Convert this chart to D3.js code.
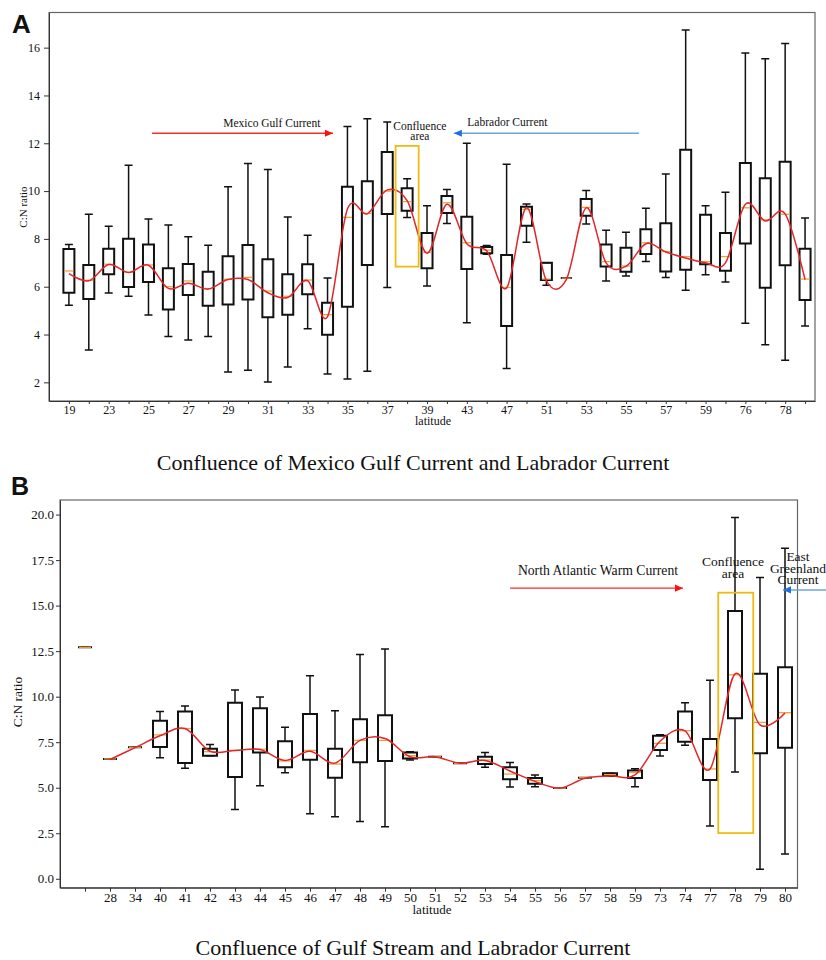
<!DOCTYPE html>
<html><head><meta charset="utf-8">
<script src="https://cdn.jsdelivr.net/npm/d3@7"></script>
<style>
body{margin:0;background:#fff}
svg{display:block}
text{font-family:"Liberation Serif","Times New Roman",serif;fill:#111}
</style>
</head><body>
<svg id="chart" width="826" height="960"></svg>
<script>
// ---------------- Panel A data ----------------
const catsA = ["19","21","23","24","25","26","27","28","29","30","31","32","33","34","35","36","37","38","39","41","43","45","47","49","51","52","53","54","55","56","57","58","59","60","76","77","78","79"];
const tickLabelsA = ["19","23","25","27","29","31","33","35","37","39","43","47","51","53","55","57","59","76","78"];
const lowA  = [5.23,3.35,5.74,5.60,4.82,3.92,3.77,3.92,2.43,2.51,2.01,2.64,4.24,2.35,2.14,2.46,5.97,8.90,6.03,8.64,4.49,7.36,2.58,7.86,6.06,6.36,8.62,6.24,6.45,7.06,6.39,5.85,6.50,6.20,4.47,3.57,2.92,4.36];
const q1A   = [5.75,5.49,6.52,5.99,6.20,5.05,5.65,5.20,5.26,5.47,4.72,4.83,5.68,3.99,5.16,6.91,9.04,9.18,6.77,9.08,6.74,7.40,4.36,8.55,6.28,6.36,8.97,6.85,6.63,7.37,6.64,6.71,6.94,6.67,7.81,5.96,6.90,5.44];
const medA  = [6.66,6.27,6.94,6.60,6.91,6.00,6.24,5.92,6.31,6.39,5.82,5.60,6.28,4.83,8.90,9.07,10.00,9.56,7.44,9.51,7.84,7.53,5.97,9.24,6.32,6.36,9.32,7.05,6.87,7.84,7.47,7.26,7.05,7.26,9.30,8.80,9.03,6.32];
const q3A   = [7.58,6.91,7.59,8.01,7.77,6.77,6.95,6.63,7.27,7.74,7.15,6.52,6.94,5.33,10.18,10.41,11.64,10.12,8.25,9.79,8.93,7.66,7.33,9.35,7.00,6.36,9.67,7.77,7.63,8.40,8.65,11.73,9.01,8.25,11.18,10.54,11.23,7.59];
const highA = [7.77,9.03,8.53,11.08,8.83,8.58,8.09,7.73,10.18,11.15,10.90,8.92,8.15,6.36,12.70,13.03,12.89,10.52,9.39,10.07,12.00,7.72,11.12,9.46,7.00,6.36,10.02,8.36,8.28,9.28,10.72,16.74,9.39,9.95,15.78,15.54,16.17,8.87];
const meanA = [6.55,6.25,6.93,6.60,6.90,5.93,6.15,5.90,6.30,6.30,5.75,5.55,6.25,4.75,9.25,9.05,10.05,9.60,7.40,9.45,7.80,7.50,5.95,9.30,6.25,6.30,9.30,7.00,6.85,7.80,7.45,7.20,7.00,7.00,9.45,8.75,9.05,6.30];
const yTicksA = [2,4,6,8,10,12,14,16];

// ---------------- Panel B data ----------------
const catsB = ["","28","34","40","41","42","43","44","45","46","47","48","49","50","51","52","53","54","55","56","57","58","59","73","74","77","78","79","80"];
const lowB  = [12.71,6.58,7.22,6.65,6.07,6.76,3.81,5.11,5.82,3.57,3.41,3.15,2.86,6.52,6.70,6.34,6.12,5.04,5.06,4.98,5.55,5.64,5.06,6.74,7.33,2.90,5.86,0.53,1.36];
const q1B   = [12.71,6.58,7.22,7.24,6.36,6.76,5.59,6.94,6.12,6.54,5.55,6.40,6.47,6.60,6.70,6.34,6.30,5.46,5.22,4.98,5.55,5.64,5.53,7.07,7.53,5.42,8.81,6.89,7.20];
const medB  = [12.71,6.58,7.22,7.90,8.25,6.98,7.05,7.12,6.47,7.05,6.30,7.60,7.60,6.76,6.70,6.34,6.52,5.75,5.39,4.98,5.55,5.72,5.84,7.44,8.13,6.03,11.20,8.59,9.12];
const q3B   = [12.71,6.58,7.22,8.68,9.18,7.14,9.67,9.36,7.55,9.05,7.14,8.76,8.98,6.93,6.70,6.34,6.70,6.12,5.53,4.98,5.55,5.80,5.95,7.86,9.18,7.68,14.71,11.26,11.61];
const highB = [12.71,6.58,7.22,9.18,9.49,7.38,10.37,9.98,8.32,11.15,9.23,12.31,12.62,6.98,6.70,6.34,6.93,6.38,5.70,4.98,5.55,5.80,6.04,7.91,9.67,10.90,19.84,16.54,18.15];
const meanB = [null,6.55,7.20,7.85,8.25,7.00,7.05,7.10,6.50,7.00,6.35,7.60,7.70,6.70,6.70,6.35,6.50,5.92,5.35,4.98,5.52,5.65,5.70,7.55,8.12,6.03,11.25,8.45,9.10];
const yTicksB = [0,2.5,5,7.5,10,12.5,15,17.5,20];

const svg = d3.select("#chart");
svg.append("rect").attr("width",826).attr("height",960).attr("fill","#fff");

function panel(o){
  const g = svg.append("g");
  const x = d3.scaleLinear().domain(o.xDomain).range([o.left, o.right]);
  const y = d3.scaleLinear().domain(o.yDomain).range([o.bottom, o.top]);
  const n = o.cats.length;
  const pos = i => x(i + 1);

  // frame
  g.append("rect").attr("x",o.left).attr("y",o.top)
    .attr("width",o.right-o.left).attr("height",o.bottom-o.top)
    .attr("fill","none").attr("stroke","#666").attr("stroke-width",1.2);

  // y axis
  const ya = g.append("g").attr("transform",`translate(${o.left},0)`)
    .call(d3.axisLeft(y).tickValues(o.yTicks).tickFormat(o.yFmt)
      .tickSize(o.yTickSize).tickPadding(o.yPad).tickSizeOuter(0));
  ya.selectAll("text").style("font-size",o.fs+"px").attr("fill","#111");
  ya.selectAll("line,path").attr("stroke","#333");

  // x axis
  const xa = g.append("g").attr("transform",`translate(0,${o.bottom})`)
    .call(d3.axisBottom(x).tickValues(d3.range(1,n+1))
      .tickFormat(v => o.labels.includes(o.cats[v-1]) ? o.cats[v-1] : "")
      .tickSize(o.xTickSize).tickPadding(o.xPad).tickSizeOuter(0));
  xa.selectAll("text").style("font-size",o.fs+"px").attr("fill","#111");
  xa.selectAll("line,path").attr("stroke","#333");

  const idx = d3.range(n);
  const bw = o.boxW, cw = o.capW;
  // whiskers
  g.append("g").selectAll("path").data(idx).join("path")
    .attr("d", i => `M${pos(i)},${y(o.low[i])}V${y(o.q1[i])}M${pos(i)},${y(o.q3[i])}V${y(o.high[i])}`
      + `M${pos(i)-cw/2},${y(o.low[i])}H${pos(i)+cw/2}M${pos(i)-cw/2},${y(o.high[i])}H${pos(i)+cw/2}`)
    .attr("fill","none").attr("stroke","#111").attr("stroke-width",o.whiskW);
  // boxes
  g.append("g").selectAll("path").data(idx).join("path")
    .attr("d", i => `M${pos(i)-bw/2},${y(o.q3[i])}H${pos(i)+bw/2}V${y(o.q1[i])}H${pos(i)-bw/2}Z`)
    .attr("fill","none").attr("stroke","#111").attr("stroke-width",o.boxStroke);
  // medians
  g.append("g").selectAll("line").data(idx).join("line")
    .attr("x1", i => pos(i)-bw/2+1).attr("x2", i => pos(i)+bw/2-1)
    .attr("y1", i => y(o.med[i])).attr("y2", i => y(o.med[i]))
    .attr("stroke", o.medColor).attr("stroke-width",1.3);
  // smooth trend
  const line = d3.line().defined(d => d != null)
    .x((d,i) => pos(i)).y(d => y(d)).curve(d3.curveCardinal.tension(0));
  g.append("path").attr("d", line(o.mean))
    .attr("fill","none").attr("stroke","#e0262b").attr("stroke-width",1.5);

  return {g, x, y};
}

function arrow(g, x1, x2, yy, lineColor, headColor){
  g.append("line").attr("x1",x1).attr("x2",x2).attr("y1",yy).attr("y2",yy)
    .attr("stroke",lineColor).attr("stroke-width",1.4);
  const d = x2 > x1 ? 1 : -1;
  g.append("path").attr("d",`M${x2},${yy}L${x2-d*8},${yy-3.6}L${x2-d*8},${yy+3.6}Z`).attr("fill",headColor);
}

// ---------------- Panel A ----------------
const A = panel({
  cats:catsA, labels:tickLabelsA, low:lowA, q1:q1A, med:medA, q3:q3A, high:highA, mean:meanA,
  xDomain:[0,38.5], yDomain:[1.22,17.47], left:49, right:815, top:12.5, bottom:401,
  yTicks:yTicksA, yFmt:d3.format("d"), yTickSize:5, yPad:4, xTickSize:3, xPad:1, fs:12,
  boxW:11, capW:8, boxStroke:2, whiskW:1.5, medColor:"#f2a03c"
});
{
  const {g,x,y} = A;
  g.append("rect").attr("x",x(17.42)).attr("y",y(11.89))
    .attr("width",x(18.58)-x(17.42)).attr("height",y(6.84)-y(11.89))
    .attr("fill","none").attr("stroke","#eebb10").attr("stroke-width",1.8);
  arrow(g, x(5.18), x(14.27), y(12.42), "#ff2a2a", "#ff1010");
  arrow(g, x(29.65), x(20.35), y(12.42), "#6fa3d8", "#1a70e0");
  const t = (s,xv,yv,fs) => g.append("text").attr("x",x(xv)).attr("y",y(yv)).attr("dy","0.35em")
    .attr("text-anchor","middle").style("font-size",fs+"px").text(s);
  t("Mexico Gulf Current",11.2,12.86,11.5);
  t("Labrador Current",23.04,12.88,11.5);
  t("Confluence",18.64,12.71,11.5);
  t("area",18.64,12.30,11.5);
  g.append("text").attr("x",433).attr("y",425).attr("text-anchor","middle").style("font-size","12px").text("latitude");
  g.append("text").attr("transform","translate(27,207) rotate(-90)").attr("text-anchor","middle").style("font-size","11px").text("C:N ratio");
  g.append("text").attr("x",12).attr("y",33).style("font-family","'Liberation Sans',Arial,sans-serif").style("font-weight","bold").style("font-size","26px").text("A");
  g.append("text").attr("x",413).attr("y",470).attr("text-anchor","middle").style("font-size","22px").text("Confluence of Mexico Gulf Current and Labrador Current");
}

// ---------------- Panel B ----------------
const B = panel({
  cats:catsB, labels:catsB.filter(c => c !== ""), low:lowB, q1:q1B, med:medB, q3:q3B, high:highB, mean:meanB,
  xDomain:[0,29.5], yDomain:[-0.49,20.8], left:60, right:797.5, top:500, bottom:887.7,
  yTicks:yTicksB, yFmt:d3.format(".1f"), yTickSize:4, yPad:2, xTickSize:4, xPad:1, fs:13,
  boxW:14, capW:8, boxStroke:2, whiskW:1.5, medColor:"#f2a03c"
});
{
  const {g,x,y} = B;
  g.append("rect").attr("x",x(26.33)).attr("y",y(15.71))
    .attr("width",x(27.73)-x(26.33)).attr("height",y(2.51)-y(15.71))
    .attr("fill","none").attr("stroke","#eebb10").attr("stroke-width",1.8);
  arrow(g, x(18.0), x(24.92), y(15.96), "#ff2a2a", "#ff1010");
  arrow(g, x(30.8), x(28.92), y(15.86), "#6fa3d8", "#1a70e0");
  const t = (s,xv,yv,fs) => g.append("text").attr("x",x(xv)).attr("y",y(yv)).attr("dy","0.35em")
    .attr("text-anchor","middle").style("font-size",fs+"px").text(s);
  t("North Atlantic Warm Current",21.52,16.96,13.7);
  t("Confluence",26.92,17.42,13.5);
  t("area",26.92,16.8,13.5);
  t("East",29.52,17.7,13.5);
  t("Greenland",29.52,17.07,13.5);
  t("Current",29.52,16.45,13.5);
  g.append("text").attr("x",432).attr("y",914).attr("text-anchor","middle").style("font-size","13px").text("latitude");
  g.append("text").attr("transform","translate(22,702) rotate(-90)").attr("text-anchor","middle").style("font-size","13.5px").text("C:N ratio");
  g.append("text").attr("x",11).attr("y",495).style("font-family","'Liberation Sans',Arial,sans-serif").style("font-weight","bold").style("font-size","25px").text("B");
  g.append("text").attr("x",413).attr("y",955).attr("text-anchor","middle").style("font-size","22px").text("Confluence of Gulf Stream and Labrador Current");
}
</script>
</body></html>
